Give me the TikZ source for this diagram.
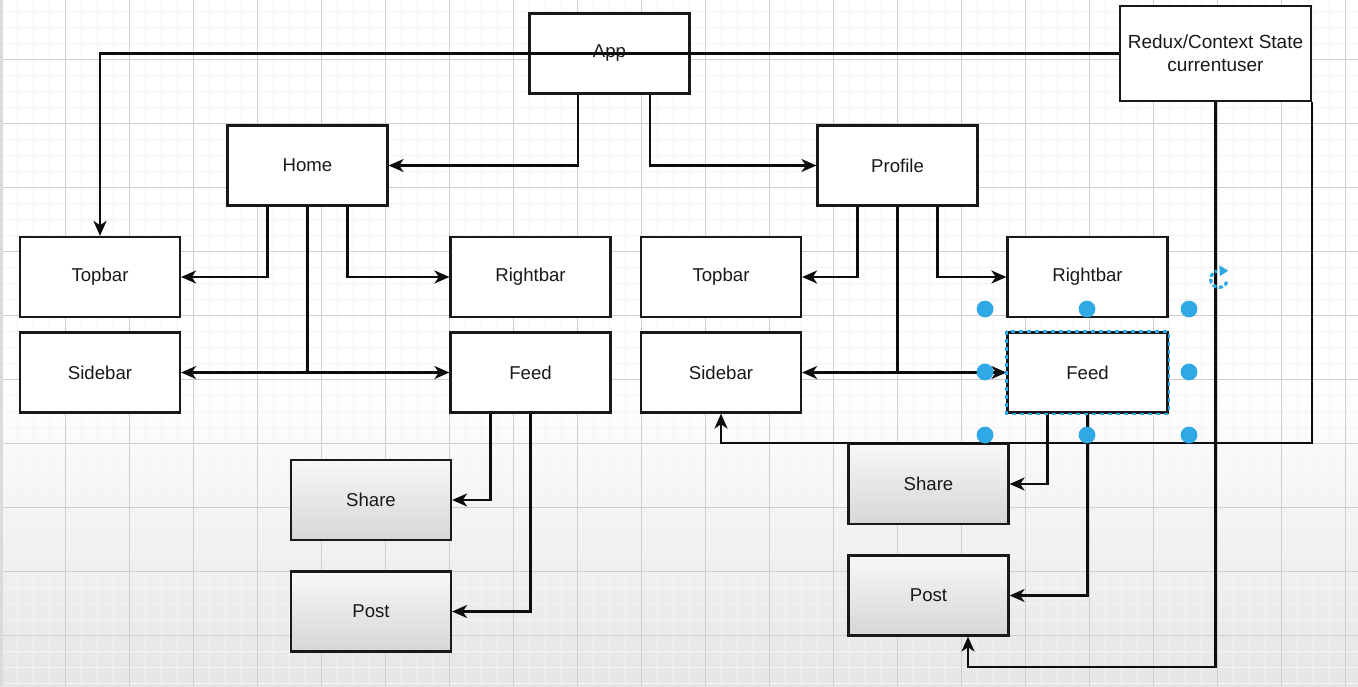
\documentclass[tikz,border=0pt]{standalone}
\usepackage{fontspec}
\setmainfont{Liberation Sans}
\usetikzlibrary{arrows.meta,calc}
\definecolor{selblue}{HTML}{2FA8E6}
\begin{document}
\begin{tikzpicture}[x=0.5pt,y=-0.5pt,
  box/.style={draw=black!90, line width=1.1pt, fill=white, minimum width=80pt, minimum height=40pt,
    inner sep=0pt, font=\fontsize{9.3pt}{11.5pt}\selectfont, text=black!90, align=center},
  grbox/.style={box, top color=black!3, bottom color=black!16},
  conn/.style={line width=1.1pt, draw=black!95},
  arr/.style={conn, -{Stealth[length=7.5pt,width=6.5pt,inset=2.2pt]}},
  minorgrid/.style={draw=black!4.5, line width=0.5pt},
  majorgrid/.style={draw=black!19, line width=0.5pt},
  handle/.style={fill=selblue}
]
\useasboundingbox (0,0) rectangle (1358,686);
% background
\fill[white] (0,0) rectangle (1358,686);
\shade[top color=white, bottom color=black!10] (0,380) rectangle (1358,686);
\foreach \x in {1,17,...,1358} \draw[minorgrid] (\x,0) -- (\x,686);
\foreach \y in {11,27,...,686} \draw[minorgrid] (0,\y) -- (1358,\y);
\foreach \x in {1,65,...,1358} \draw[majorgrid] (\x,0) -- (\x,686);
\foreach \y in {59,123,...,686} \draw[majorgrid] (0,\y) -- (1358,\y);
\fill[black!14] (0,0) rectangle (3,686);

% nodes
\node[box] (app) at (609.5,53.5) {App};
\node[box, minimum width=95.5pt, minimum height=47.5pt, font=\fontsize{9.5pt}{11.5pt}\selectfont] (redux) at (1215.5,53.5) {Redux/Context State\\currentuser};
\node[box] (home) at (307.5,165.5) {Home};
\node[box] (profile) at (897.5,165.5) {Profile};
\node[box] (topL) at (100,277) {Topbar};
\node[box] (sideL) at (100,372.5) {Sidebar};
\node[box] (rightL) at (530.5,277) {Rightbar};
\node[box] (feedL) at (530.5,372.5) {Feed};
\node[grbox] (shareL) at (371,500) {Share};
\node[grbox] (postL) at (371,611.5) {Post};
\node[box] (topR) at (721,277) {Topbar};
\node[box] (sideR) at (721,372.5) {Sidebar};
\node[box] (rightR) at (1087.5,277) {Rightbar};
\node[box] (feedR) at (1087.5,372.5) {Feed};
\node[grbox] (shareR) at (928.5,484) {Share};
\node[grbox] (postR) at (928.5,595.5) {Post};

% connectors
\draw[arr] (redux.west) -| (topL.north);
\draw[arr] ([xshift=-15.75pt]app.south) |- (home.east);
\draw[arr] ([xshift=20.25pt]app.south) |- (profile.west);
\draw[arr] ([xshift=-20pt]home.south) |- (topL.east);
\draw[arr] ([xshift=20pt]home.south) |- (rightL.west);
\draw[arr] (home.south) |- (sideL.east);
\draw[arr] (home.south) |- (feedL.west);
\draw[arr] ([xshift=-20pt]feedL.south) |- (shareL.east);
\draw[arr] (feedL.south) |- (postL.east);
\draw[arr] ([xshift=-20pt]profile.south) |- (topR.east);
\draw[arr] ([xshift=20pt]profile.south) |- (rightR.west);
\draw[arr] (profile.south) |- (sideR.east);
\draw[arr] (profile.south) |- (feedR.west);
\draw[arr] ([xshift=-20pt]feedR.south) |- (shareR.east);
\draw[arr] (feedR.south) |- (postR.east);
\draw[arr] (redux.south east) |- (shareR.north) -| (sideR.south);
\coordinate (rb) at (1215.5,667);
\draw[arr] (redux.south) -- (rb) -| ([xshift=19.75pt]postR.south);

% selection of right Feed
\draw[selblue, line width=1.1pt, dash pattern=on 2pt off 2pt] (feedR.north west) rectangle (feedR.south east);
\foreach \p in {(985,309),(1087,309),(1189,309),(985,372),(1189,372),(985,435),(1087,435),(1189,435)}
  \fill[handle] \p circle (4.2pt);
\begin{scope}[shift={(1219,279)}, x=1pt, y=1pt]
  \draw[selblue, line width=1.6pt, dash pattern=on 2pt off 1.2pt]
    (-20:4.2) arc[start angle=-20, end angle=-255, radius=4.2];
  \fill[selblue] (0.2,6.8) -- (4.6,4.2) -- (0.4,1.4) -- cycle;
\end{scope}
\end{tikzpicture}
\end{document}
